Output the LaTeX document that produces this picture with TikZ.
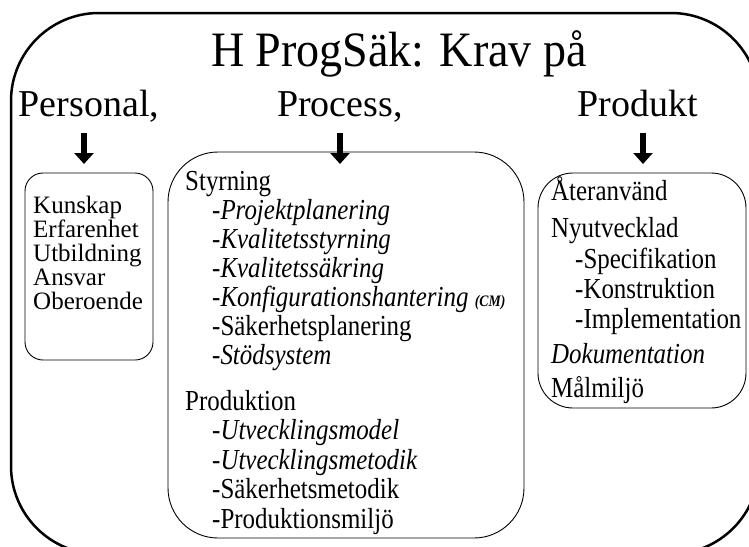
\documentclass[tikz,border=0pt]{standalone}
\usepackage{fontspec}
\setmainfont[FakeStretch=0.86]{Liberation Serif}
\newfontfamily\plainserif{Liberation Serif}
\newfontfamily\titleserif[FakeStretch=0.93]{Liberation Serif}
\usetikzlibrary{arrows.meta}
\begin{document}
\begin{tikzpicture}[x=1pt,y=-1pt,
  frame/.style={line width=2.5pt},
  box/.style={draw, line width=0.9pt, inner sep=0pt},
  item/.style={anchor=base west, inner sep=0pt, font=\fontsize{29}{34}\selectfont},
  pitem/.style={anchor=base west, inner sep=0pt, font=\plainserif\fontsize{25}{28}\selectfont},
  head/.style={anchor=base, inner sep=0pt, font=\plainserif\fontsize{38}{44}\selectfont},
  darrow/.style={line width=5.5pt, -{Triangle[width=19pt,length=11pt]}}
]
\useasboundingbox (0,0) rectangle (749,546);
\begin{scope}
\clip (0,0) rectangle (749,546);
\draw[frame, rounded corners=88pt] (11,13) rectangle (759,554);
\end{scope}

\node[anchor=base, inner sep=0pt, font=\titleserif\fontsize{49.5}{56}\selectfont] (title) at (399,66) {H ProgSäk: Krav på};

\node[head] (hpers) at (89,116) {Personal,};
\node[head] (hproc) at (340,116) {Process,};
\node[head] (hprod) at (638,116) {Produkt};

\coordinate (a1s) at (84,133); \coordinate (a1e) at (84,164);
\coordinate (a2s) at (340,133); \coordinate (a2e) at (340,164);
\coordinate (a3s) at (643,133); \coordinate (a3e) at (643,164);
\draw[darrow] (a1s) -- (a1e);
\draw[darrow] (a2s) -- (a2e);
\draw[darrow] (a3s) -- (a3e);

\node[box, rounded corners=18pt, minimum width=128pt, minimum height=187pt] (persbox) at (89,266.5) {};
\node[box, rounded corners=50pt, minimum width=356pt, minimum height=386pt] (procbox) at (346,345) {};
\node[box, rounded corners=35pt, minimum width=208pt, minimum height=235pt] (prodbox) at (642,290.5) {};

% Personal
\node[pitem] (p1) at (33,213) {Kunskap};
\node[pitem] (p2) at (33,237) {Erfarenhet};
\node[pitem] (p3) at (33,261) {Utbildning};
\node[pitem] (p4) at (33,285) {Ansvar};
\node[pitem] (p5) at (33,309) {Oberoende};

% Process
\node[item] (s0) at (185,190) {Styrning};
\node[item] (s1) at (212,219) {-\textit{Projektplanering}};
\node[item] (s2) at (212,248) {-\textit{Kvalitetsstyrning}};
\node[item] (s3) at (212,277) {-\textit{Kvalitetssäkring}};
\node[item] (s4) at (212,306) {-\textit{Konfigurationshantering} {\fontsize{16}{18}\selectfont\bfseries\itshape (CM)}};
\node[item] (s5) at (212,335) {-Säkerhetsplanering};
\node[item] (s6) at (212,364) {-\textit{Stödsystem}};
\node[item] (r0) at (185,410) {Produktion};
\node[item] (r1) at (212,439.5) {-\textit{Utvecklingsmodel}};
\node[item] (r2) at (212,469) {-\textit{Utvecklingsmetodik}};
\node[item] (r3) at (212,498.5) {-Säkerhetsmetodik};
\node[item] (r4) at (212,528) {-Produktionsmiljö};

% Produkt
\node[item] (d1) at (551,200) {Återanvänd};
\node[item] (d2) at (551,237) {Nyutvecklad};
\node[item] (d3) at (575,268) {-Specifikation};
\node[item] (d4) at (575,298) {-Konstruktion};
\node[item] (d5) at (575,328) {-Implementation};
\node[item] (d6) at (551,363) {\textit{Dokumentation}};
\node[item] (d7) at (551,397) {Målmiljö};
\end{tikzpicture}
\end{document}
